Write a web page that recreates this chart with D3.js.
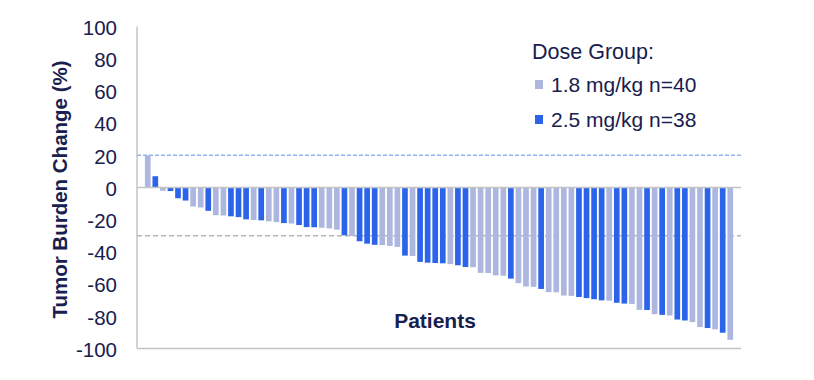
<!DOCTYPE html>
<html>
<head>
<meta charset="utf-8">
<script src="https://cdn.jsdelivr.net/npm/d3@7"></script>
<style>
  body { margin: 0; background: #fff; }
  text { font-family: Arial, 'Liberation Sans', sans-serif; fill: #17204e; }
</style>
</head>
<body>
<div id="chart"></div>
<script>
// Dose groups (legend labels)
const doseGroups = ['1.8 mg/kg n=40', '2.5 mg/kg n=38'];

// Best % change in tumor burden per patient, sorted (waterfall)
const changes = [
  20, 7, -2, -2.2, -6.7, -8.1, -11.8, -12.4, -14.5, -17.2,
  -17.4, -17.9, -18.4, -19.8, -20.2, -20.4, -21, -21.5, -22.1, -22.4,
  -23.3, -24.6, -24.7, -25, -25.4, -26.2, -29.7, -30.1, -33.4, -34.9,
  -35.6, -35.8, -36.3, -36.9, -42.3, -42.5, -46.2, -46.7, -46.9, -47.1,
  -47.5, -48.3, -49.4, -49.5, -53, -53.1, -54.6, -54.8, -56.6, -59.4,
  -61.5, -61.7, -63, -65, -65.1, -67.1, -67.3, -68, -68.7, -69.4,
  -70.1, -70.3, -71.6, -72.1, -72.3, -76, -76.1, -78.7, -79.1, -79.5,
  -82, -82.6, -83.6, -86.7, -87.3, -88.1, -90.2, -94.6
];

// Dose group index of each patient (0 = 1.8 mg/kg, 1 = 2.5 mg/kg)
const groupOf = [
  0, 1, 0, 1, 1, 1, 0, 0, 1, 0,
  0, 1, 1, 1, 0, 1, 0, 0, 1, 0,
  1, 1, 1, 0, 0, 0, 1, 0, 1, 1,
  1, 0, 0, 0, 1, 0, 1, 1, 1, 1,
  0, 1, 1, 0, 0, 0, 0, 0, 1, 0,
  0, 0, 1, 0, 0, 0, 0, 1, 1, 1,
  1, 0, 1, 1, 0, 0, 1, 0, 1, 0,
  1, 1, 0, 0, 1, 0, 1, 0
];

const yTicks = [100, 80, 60, 40, 20, 0, -20, -40, -60, -80, -100];
const refLines = [20, -30];

const width = 814, height = 380;
const plot = {left: 137, right: 741, top: 26.5, bottom: 348.5};

const svg = d3.select('#chart').append('svg')
  .attr('width', width)
  .attr('height', height);

// Scales
const x = d3.scaleBand()
  .domain(d3.range(changes.length))
  .range([plot.left, plot.right])
  .paddingInner(0.25)
  .paddingOuter(1.045);

const y = d3.scaleLinear()
  .domain([-100, 100])
  .range([plot.bottom, plot.top]);

const color = d3.scaleOrdinal()
  .domain([0, 1])
  .range(['#adb6de', '#2b64ea']);

// Y axis labels (plain hyphen for negatives, as in the original)
svg.append('g')
  .attr('transform', 'translate(' + plot.left + ',0)')
  .call(d3.axisLeft(y).tickValues(yTicks).tickSize(0).tickPadding(20)
    .tickFormat(d => String(d)))
  .call(g => g.select('.domain').remove())
  .selectAll('text')
    .style('font-size', '20.5px')
    .attr('dy', '0.38em')
    .attr('fill', '#17204e');

// Axis frame lines
svg.append('line')
  .attr('x1', plot.left).attr('x2', plot.left)
  .attr('y1', plot.top).attr('y2', plot.bottom)
  .attr('stroke', '#c4c4c4').attr('stroke-width', 1.5);
svg.append('line')
  .attr('x1', plot.left).attr('x2', plot.right)
  .attr('y1', plot.bottom).attr('y2', plot.bottom)
  .attr('stroke', '#c4c4c4').attr('stroke-width', 1.5);

// Reference lines (+20%, -30%)
svg.append('line')
  .attr('x1', plot.left).attr('x2', plot.right)
  .attr('y1', y(refLines[0])).attr('y2', y(refLines[0]))
  .attr('stroke', '#98b4f2').attr('stroke-width', 1.4)
  .attr('stroke-dasharray', '4,2');
svg.append('line')
  .attr('x1', plot.left).attr('x2', plot.right)
  .attr('y1', y(refLines[1])).attr('y2', y(refLines[1]))
  .attr('stroke', '#b8b8b8').attr('stroke-width', 1.4)
  .attr('stroke-dasharray', '5,3');

// Bars
svg.append('g')
  .selectAll('rect')
  .data(changes)
  .enter().append('rect')
    .attr('x', (d, i) => x(i))
    .attr('y', d => y(Math.max(0, d)))
    .attr('width', x.bandwidth())
    .attr('height', d => Math.abs(y(d) - y(0)))
    .attr('fill', (d, i) => color(groupOf[i]));

// Zero line
svg.append('line')
  .attr('x1', plot.left).attr('x2', plot.right)
  .attr('y1', y(0)).attr('y2', y(0))
  .attr('stroke', '#c4c4c4').attr('stroke-width', 1.5);

// Axis titles
svg.append('text')
  .attr('transform', 'translate(67,' + ((plot.top + plot.bottom) / 2 + 2) + ') rotate(-90)')
  .style('text-anchor', 'middle')
  .style('font-size', '20.5px')
  .style('font-weight', 'bold')
  .text('Tumor Burden Change (%)');

svg.append('text')
  .attr('x', 435)
  .attr('y', 328)
  .style('text-anchor', 'middle')
  .style('font-size', '21px')
  .style('font-weight', 'bold')
  .text('Patients');

// Legend
const legend = svg.append('g').attr('transform', 'translate(532,0)');
legend.append('text')
  .attr('x', 0).attr('y', 59)
  .style('font-size', '21.5px')
  .text('Dose Group:');

const items = legend.selectAll('.item')
  .data(doseGroups)
  .enter().append('g')
    .attr('transform', (d, i) => 'translate(0,' + (92 + i * 35) + ')');
items.append('rect')
  .attr('x', 3).attr('y', -12)
  .attr('width', 8).attr('height', 9)
  .attr('fill', (d, i) => color(i));
items.append('text')
  .attr('x', 19).attr('y', 0)
  .style('font-size', '21px')
  .text(d => d);
</script>
</body>
</html>
